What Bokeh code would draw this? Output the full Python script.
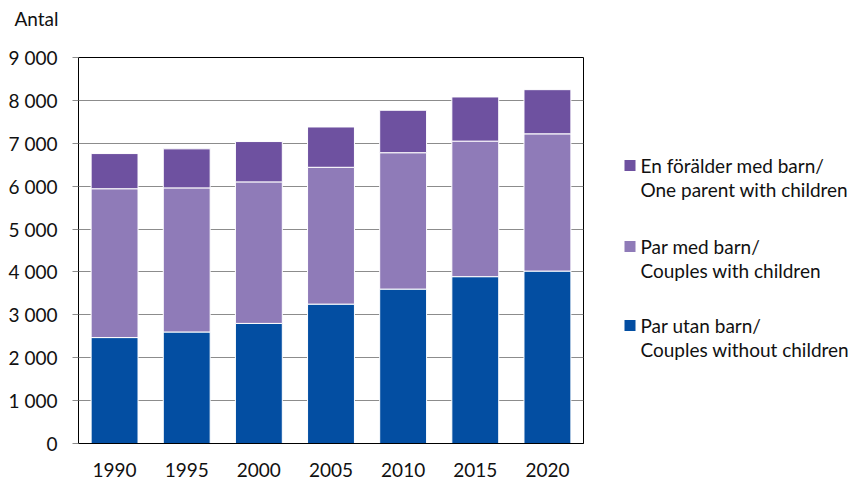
from bokeh.plotting import figure
from bokeh.layouts import row, column
from bokeh.models import FactorRange, Range1d, FixedTicker, ColumnDataSource
from bokeh.core.properties import value
from bokeh.embed import file_html
from bokeh.resources import INLINE

years = ["1990", "1995", "2000", "2005", "2010", "2015", "2020"]
par_utan_barn = [2470, 2600, 2800, 3250, 3600, 3890, 4020]
par_med_barn = [3470, 3360, 3300, 3190, 3180, 3160, 3200]
en_foralder = [820, 910, 940, 940, 990, 1030, 1030]

series_keys = ["par_utan", "par_med", "en_foralder"]
series_colors = ["#034EA2", "#8F7BB8", "#6E51A0"]
legend_line1 = ["En förälder med barn/", "Par med barn/", "Par utan barn/"]
legend_line2 = ["One parent with children", "Couples with children",
                "Couples without children"]
legend_colors = ["#6E51A0", "#8F7BB8", "#034EA2"]
y_axis_title = "Antal"

y_ticks = [0, 1000, 2000, 3000, 4000, 5000, 6000, 7000, 8000, 9000]
y_tick_labels = ["0", "1 000", "2 000", "3 000", "4 000", "5 000",
                 "6 000", "7 000", "8 000", "9 000"]

FONT = "Lato"
FS = "19px"
TXT = "#111111"

W, H = 857, 481
STRIP_H = 36
MAIN_W = 584
TOP, BOTTOM = 57, 38
ROW_H = H - STRIP_H

# top strip holding the unit label (page-pixel coordinates, y downward)
strip = figure(width=W, height=STRIP_H, title=None,
               x_range=Range1d(0, W), y_range=Range1d(STRIP_H, 0),
               output_backend="svg", toolbar_location=None,
               x_axis_location=None, y_axis_location=None,
               min_border=0, outline_line_color=None)
strip.xgrid.grid_line_color = None
strip.ygrid.grid_line_color = None
strip.text(x=[14], y=[18], text=[y_axis_title], text_font=value(FONT),
           text_font_size=value(FS), text_color=TXT, text_baseline="middle",
           text_align="left")

source = ColumnDataSource(dict(year=years, par_utan=par_utan_barn,
                               par_med=par_med_barn, en_foralder=en_foralder))

p = figure(x_range=FactorRange(*years), y_range=Range1d(0, 9000), title=None,
           width=MAIN_W, height=ROW_H, output_backend="svg",
           toolbar_location=None, min_border_left=78,
           min_border_top=TOP - STRIP_H, min_border_bottom=BOTTOM,
           min_border_right=1)

p.vbar_stack(series_keys, x="year", width=0.65, source=source,
             fill_color=series_colors, line_color="white", line_width=1)

p.xgrid.grid_line_color = None
p.ygrid.grid_line_color = "#8C8C8C"
p.ygrid.grid_line_width = 1
p.outline_line_color = "black"
p.outline_line_width = 1
p.background_fill_color = "white"
p.border_fill_color = "white"

p.yaxis.ticker = FixedTicker(ticks=y_ticks)
p.yaxis.major_label_overrides = {t: l for t, l in zip(y_ticks, y_tick_labels)}
p.yaxis.minor_tick_line_color = None
p.yaxis.major_tick_out = 6
p.yaxis.major_tick_in = 0
p.yaxis.major_tick_line_color = "#8C8C8C"
p.yaxis.axis_line_color = "black"
p.yaxis.major_label_text_font = FONT
p.yaxis.major_label_text_font_size = FS
p.yaxis.major_label_text_color = TXT
p.yaxis.major_label_standoff = 15

p.xaxis.major_tick_line_color = None
p.xaxis.axis_line_color = "black"
p.xaxis.major_label_text_font = FONT
p.xaxis.major_label_text_font_size = FS
p.xaxis.major_label_text_color = TXT
p.xaxis.major_label_standoff = 13

# legend panel: coordinates in page pixels (y downward)
lg = figure(width=W - MAIN_W, height=ROW_H, title=None,
            x_range=Range1d(MAIN_W, W), y_range=Range1d(H - BOTTOM, TOP),
            output_backend="svg", toolbar_location=None,
            x_axis_location=None, y_axis_location=None,
            min_border_left=0, min_border_right=0,
            min_border_top=TOP - STRIP_H, min_border_bottom=BOTTOM,
            outline_line_color=None)
lg.xgrid.grid_line_color = None
lg.ygrid.grid_line_color = None

item_y = [165, 246, 325]
line_gap = 24
lg.scatter(x=[629.5] * 3, y=item_y, marker="square", size=11,
           fill_color=legend_colors, line_color=None)
lg.text(x=[640] * 3, y=item_y, text=legend_line1, text_font=value(FONT),
        text_font_size=value(FS), text_color=TXT, text_baseline="middle",
        text_align="left")
lg.text(x=[640] * 3, y=[v + line_gap for v in item_y], text=legend_line2,
        text_font=value(FONT), text_font_size=value(FS), text_color=TXT,
        text_baseline="middle", text_align="left")

layout = column(strip, row(p, lg))
open("out.html", "w").write(file_html(layout, INLINE))
